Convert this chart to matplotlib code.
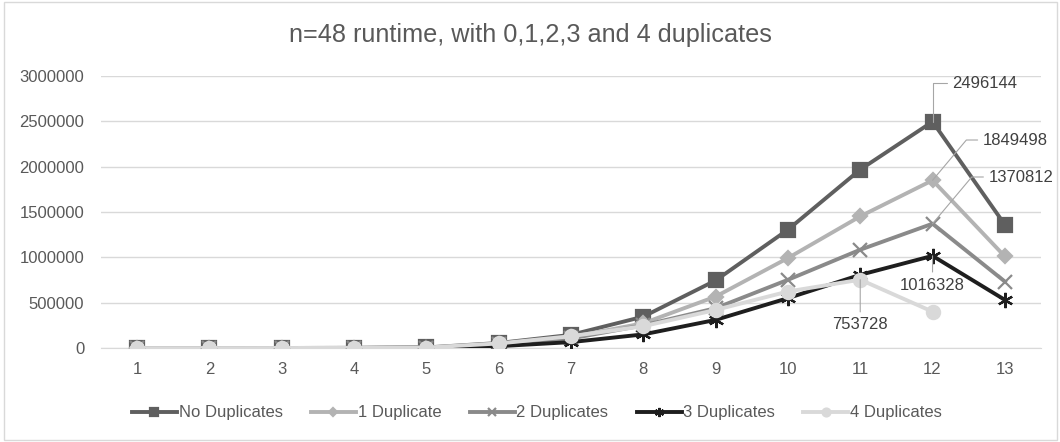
import matplotlib.pyplot as plt
from matplotlib.patches import Rectangle

plt.rcParams["font.family"] = ["Liberation Sans", "DejaVu Sans"]

X = list(range(1, 14))
NAMES = ["No Duplicates", "1 Duplicate", "2 Duplicates", "3 Duplicates", "4 Duplicates"]
NO_DUP = [10, 60, 400, 1500, 6000, 55000, 145000, 346000, 745000, 1305000, 1968000, 2496144, 1360000]
DUP_1 = [10, 50, 350, 1300, 5000, 45000, 120000, 273000, 567000, 992000, 1452000, 1849498, 1010000]
DUP_2 = [10, 40, 300, 1100, 4500, 40000, 105000, 250000, 439000, 752000, 1084000, 1370812, 733000]
DUP_3 = [5, 20, 150, 600, 2500, 20000, 65000, 150000, 310000, 550000, 807000, 1016328, 531000]
DUP_4 = [10, 45, 320, 1200, 5000, 50000, 130000, 240000, 420000, 623000, 753728, 401000, None]

SERIES = [NO_DUP, DUP_1, DUP_2, DUP_3, DUP_4]
COLORS = ["#5f5f5f", "#b3b3b3", "#8a8a8a", "#1e1e1e", "#d9d9d9"]
MARKERS = ["s", "D", "x", (6, 2, 0), "o"]
MSIZES = [10, 7.5, 10, 11, 9.5]

fig = plt.figure(figsize=(10.6, 4.42), dpi=100)
fig.patches.append(Rectangle((0.004, 0.004), 0.993, 0.992, transform=fig.transFigure,
                             fill=False, edgecolor="#d9d9d9", linewidth=1))
ax = fig.add_axes([101 / 1060, 1 - 348 / 442, (1041 - 101) / 1060, (348 - 76) / 442])

for vals, name, c, m, ms in zip(SERIES, NAMES, COLORS, MARKERS, MSIZES):
    xs = [x for x, v in zip(X, vals) if v is not None]
    ys = [v for v in vals if v is not None]
    ax.plot(xs, ys, color=c, lw=2.8, marker=m, markersize=ms, markeredgewidth=1.6,
            markeredgecolor=c, markerfacecolor=c, label=name, zorder=3)

ax.set_xlim(0.5, 13.5)
ax.set_ylim(0, 3000000)
ax.set_xticks(X)
ax.set_yticks(range(0, 3000001, 500000))
ax.set_yticklabels([str(v) for v in range(0, 3000001, 500000)])
ax.grid(axis="y", color="#d9d9d9", lw=1)
ax.set_axisbelow(True)
for s in ax.spines.values():
    s.set_visible(False)
ax.spines["bottom"].set_visible(True)
ax.spines["bottom"].set_color("#d9d9d9")
ax.tick_params(length=0, colors="#595959", labelsize=12)
ax.tick_params(axis="y", pad=12)
ax.tick_params(axis="x", pad=10)

# data labels with leader lines
lab = dict(fontsize=12, color="#404040", zorder=5)
elbow = dict(arrowstyle="-", color="#a6a6a6", lw=0.8, shrinkB=0,
             connectionstyle="angle,angleA=0,angleB=90,rad=0")
slant = dict(arrowstyle="-", color="#a6a6a6", lw=0.8, shrinkB=0,
             connectionstyle="angle,angleA=0,angleB=50,rad=0")
straight = dict(arrowstyle="-", color="#a6a6a6", lw=0.8, shrinkB=0)
ax.annotate(str(NO_DUP[11]), xy=(12, NO_DUP[11]), xytext=(12.27, 2922000),
            ha="left", va="center", arrowprops=elbow, **lab)
ax.annotate(str(DUP_1[11]), xy=(12, DUP_1[11]), xytext=(12.7, 2294000),
            ha="left", va="center", arrowprops=slant, **lab)
ax.annotate(str(DUP_2[11]), xy=(12, DUP_2[11]), xytext=(12.78, 1886000),
            ha="left", va="center", arrowprops=slant, **lab)
ax.annotate(str(DUP_3[11]), xy=(12, DUP_3[11]), xytext=(12, 694000),
            ha="center", va="center", arrowprops=straight, **lab)
ax.annotate(str(DUP_4[10]), xy=(11, DUP_4[10]), xytext=(11, 254000),
            ha="center", va="center", arrowprops=straight, **lab)

fig.suptitle("n=48 runtime, with 0,1,2,3 and 4 duplicates", y=1 - 35 / 442, va="center",
             fontsize=18.2, color="#595959")
leg = fig.legend(loc="center", bbox_to_anchor=(537 / 1060, 1 - 413 / 442), ncol=5, frameon=False,
                 fontsize=12, handlelength=2.7, handletextpad=0.1, columnspacing=1.7,
                 markerscale=0.6)
for t in leg.get_texts():
    t.set_color("#595959")

fig.savefig("out.png", dpi=100)
